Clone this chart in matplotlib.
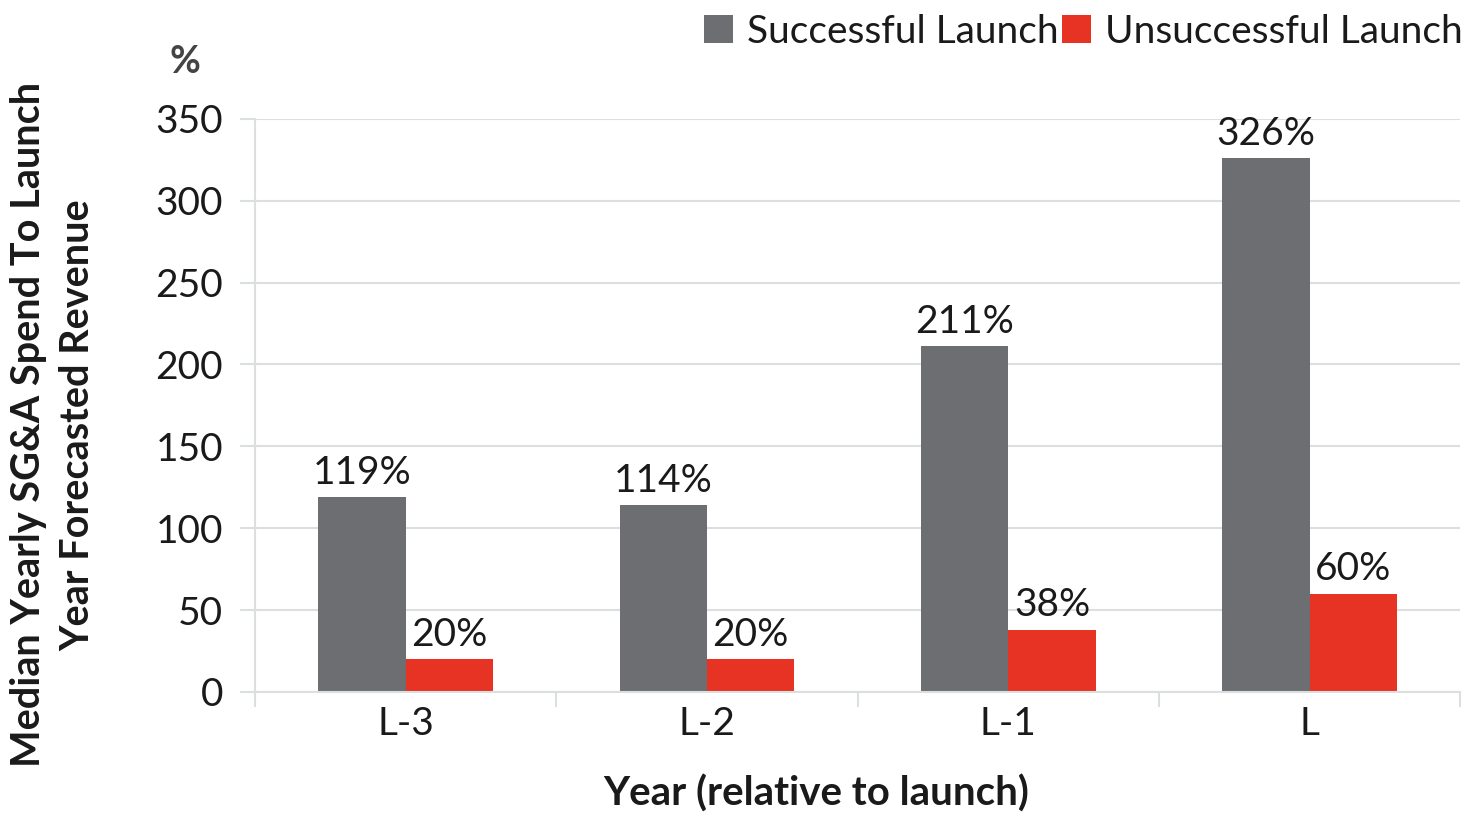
import matplotlib
matplotlib.use('Agg')
import matplotlib.pyplot as plt
import numpy as np

categories = ['L-3', 'L-2', 'L-1', 'L']
successful = [119, 114, 211, 326]
unsuccessful = [20, 20, 38, 60]
series_names = ['Successful Launch', 'Unsuccessful Launch']

plt.rcParams['font.family'] = ['Lato', 'DejaVu Sans']

gray = '#6d6e71'
red = '#e63323'
grid_c = '#dcdfe0'
txt_c = '#1a1a1a'

fig = plt.figure(figsize=(14.66, 8.14), dpi=100)
ax = fig.add_axes([0.174, 0.150, 0.822, 0.704])

x = np.arange(len(categories))
w = 0.29
b1 = ax.bar(x - w / 2, successful, w, color=gray, label=series_names[0])
b2 = ax.bar(x + w / 2, unsuccessful, w, color=red, label=series_names[1])

for bars, vals in ((b1, successful), (b2, unsuccessful)):
    for r, v in zip(bars, vals):
        ax.text(r.get_x() + r.get_width() / 2, v + 4, f'{v}%',
                ha='center', va='bottom', fontsize=28, color=txt_c)

ax.set_xlim(-0.5, len(categories) - 0.5)
ax.set_ylim(0, 350)
ax.set_yticks(range(0, 351, 50))
ax.set_xticks(x)
ax.set_xticklabels(categories)
ax.set_xticks(np.arange(-0.5, len(categories)), minor=True)
ax.tick_params(axis='x', which='major', length=0, labelsize=28, pad=10,
               labelcolor=txt_c)
ax.tick_params(axis='x', which='minor', length=11, width=1.5, color=grid_c)
ax.tick_params(axis='y', length=11, width=1.5, color=grid_c, labelsize=28,
               pad=12, labelcolor=txt_c)
ax.yaxis.grid(True, color=grid_c, linewidth=1.5)
ax.set_axisbelow(True)
for s in ['top', 'right']:
    ax.spines[s].set_visible(False)
for s in ['left', 'bottom']:
    ax.spines[s].set_color(grid_c)
    ax.spines[s].set_linewidth(1.5)

ax.set_xlabel('Year (relative to launch)', fontsize=29, fontweight='bold',
              color=txt_c)
ax.xaxis.set_label_coords(0.466, -0.145)
ax.set_ylabel('Median Yearly SG&A Spend To Launch\nYear Forecasted Revenue',
              fontsize=28.5, fontweight='bold', linespacing=1.4, color=txt_c)
ax.yaxis.set_label_coords(-0.132, 0.466)
fig.text(0.126, 0.924, '%', fontsize=27, fontweight='bold', color='#444444',
         ha='center', va='center')

fig.legend(handles=[b1, b2], loc='upper right', bbox_to_anchor=(1.0136, 1.012),
           borderaxespad=0.2, ncol=2, frameon=False, fontsize=28,
           handlelength=0.75, handleheight=0.75, handletextpad=0.35,
           columnspacing=0.1, labelcolor=txt_c)

fig.savefig('out.png', dpi=100)
